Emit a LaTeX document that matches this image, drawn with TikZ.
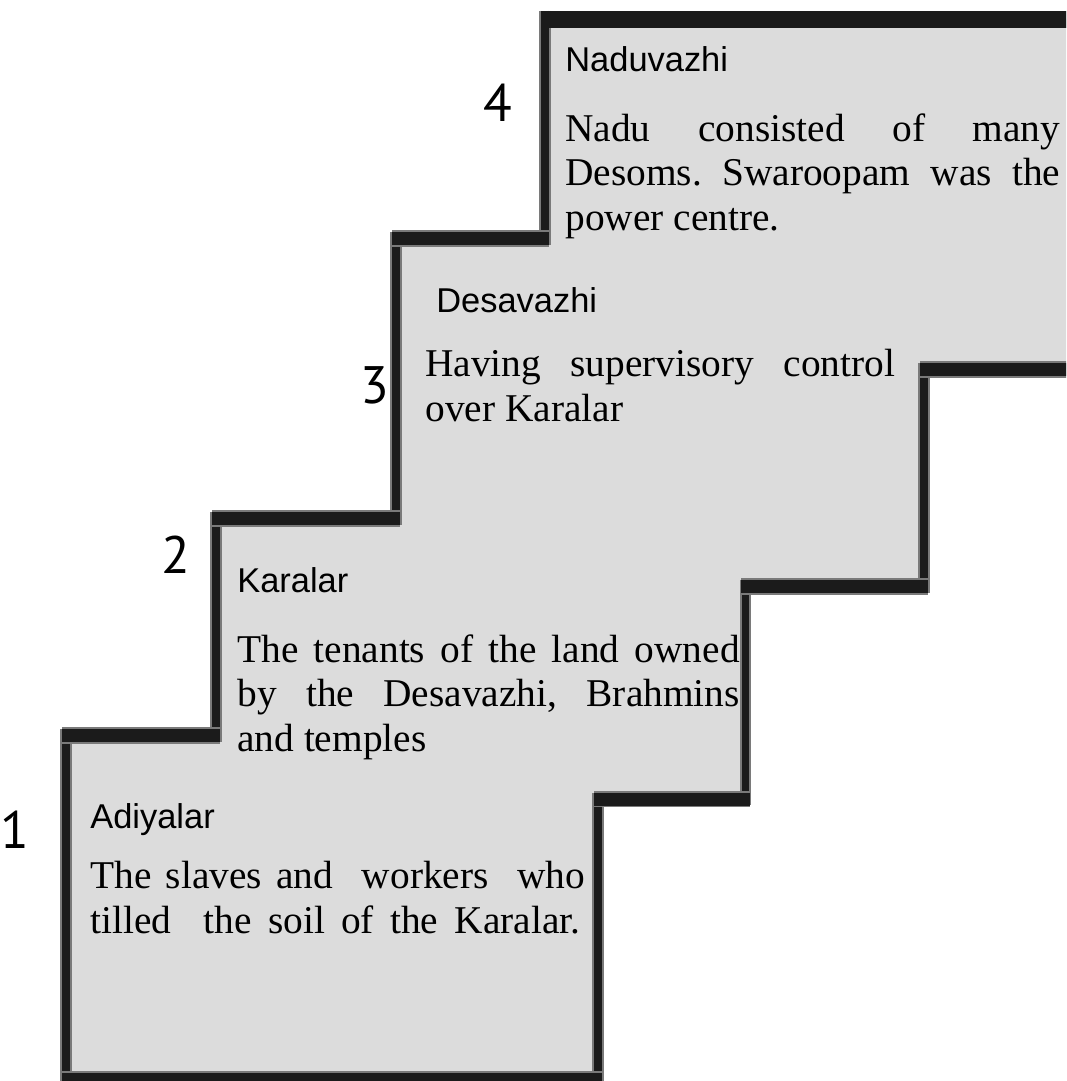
\documentclass[tikz,border=0pt]{standalone}
\usepackage{fontspec}
\setmainfont{Liberation Serif}
\newfontfamily\headfont{Liberation Sans}
\newfontfamily\numfont{PT Sans}
\definecolor{stairgray}{HTML}{DCDCDC}
\definecolor{edgeblack}{HTML}{1B1B1B}
\definecolor{edgegray}{HTML}{7A7A7A}
\tikzset{
  riser/.style={edgeblack,line width=4.4pt,preaction={draw=edgegray,line width=6.4pt}},
  tread/.style={edgeblack,line width=7.4pt,preaction={draw=edgegray,line width=9.4pt}},
  title/.style={anchor=base west,inner sep=0pt,font=\headfont\fontsize{19.6}{22}\selectfont},
  body/.style={anchor=north west,inner sep=0pt,align=justify,font=\frenchspacing\fontsize{22.4}{25.5}\selectfont},
  stepnum/.style={font=\numfont\fontsize{30}{32}\selectfont}
}
\begin{document}
\begin{tikzpicture}[x=0.02cm,y=-0.02cm]
	\useasboundingbox (0,0) rectangle (1066,1081);
	\clip (0,0) rectangle (1066,1081);
	% the stairs
	\fill[stairgray] (545,19) -- (1080,19) -- (1080,369) -- (924,369) -- (924,586) -- (745,586) -- (745,799) -- (598,799) -- (598,1079) -- (66,1079) -- (66,735) -- (216,735) -- (216,518) -- (396,518) -- (396,238) -- (545,238) -- cycle;
	\draw[riser] (545,11) -- (545,245) (396,232) -- (396,525) (216,512) -- (216,742) (66,729) -- (66,1090)
		(598,1090) -- (598,793) (745.5,805) -- (745.5,580) (924,593) -- (924,363);
	\draw[tread] (392,238.5) -- (549,238.5) (212,518.5) -- (400,518.5) (62,735.5) -- (220,735.5) (62,1079) -- (602,1079)
		(594,799) -- (750,799) (741,586.5) -- (928,586.5) (920,369.5) -- (1080,369.5);
	\draw[tread,line width=9.6pt] (541,19.5) -- (1080,19.5);
	% step 4
	\node[stepnum] (n4) at (498,103) {4};
	\node[title] (t4) at (565,72) {Naduvazhi};
	\node[body,text width=9.9cm] (b4) at (565,113) {Nadu\ consisted of many\linebreak Desoms. Swaroopam was the\linebreak power centre.};
	% step 3
	\node[stepnum] (n3) at (375,385) {3};
	\node[title] (t3) at (436,312) {Desavazhi};
	\node[body,text width=9.4cm] (b3) at (425,349) {Having supervisory control\linebreak over Karalar};
	% step 2
	\node[stepnum] (n2) at (176,555) {2};
	\node[title] (t2) at (237,592) {Karalar};
	\node[body,text width=10.05cm] (b2) at (237,634) {The tenants of the land owned\linebreak by the Desavazhi, Brahmins\linebreak and temples};
	% step 1
	\node[stepnum] (n1) at (15,830) {1};
	\node[title] (t1) at (90,828) {Adiyalar};
	\node[body,text width=9.9cm] (b1) at (90,861) {The slaves and\ \ workers\ \ who\linebreak \makebox[9.8cm][s]{tilled\ \ the soil of the Karalar.}};
\end{tikzpicture}
\end{document}
